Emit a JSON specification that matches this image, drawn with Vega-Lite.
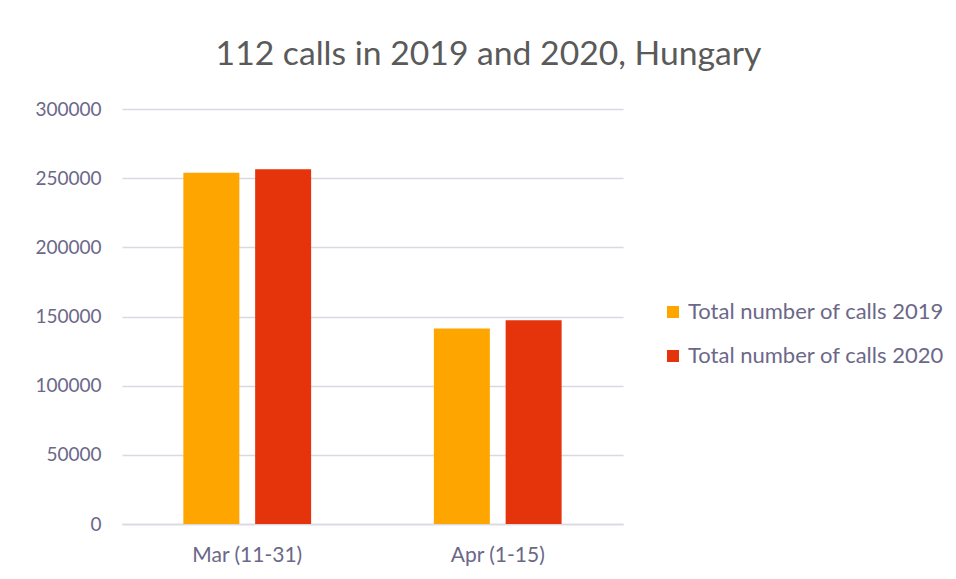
{
  "$schema": "https://vega.github.io/schema/vega-lite/v6.json",
  "width": 501,
  "height": 415,
  "autosize": {"type": "none"},
  "padding": {"left": 122, "top": 109, "right": 333, "bottom": 55},
  "background": "white",
  "title": {
    "text": "112 calls in 2019 and 2020, Hungary",
    "font": "Lato",
    "fontSize": 33.7,
    "fontWeight": "normal",
    "color": "#5A5A5A",
    "anchor": "middle",
    "dx": 116,
    "offset": 28
  },
  "data": {
    "values": [
      {"period": "Mar (11-31)", "series": "Total number of calls 2019", "calls": 254000},
      {"period": "Mar (11-31)", "series": "Total number of calls 2020", "calls": 256500},
      {"period": "Apr (1-15)", "series": "Total number of calls 2019", "calls": 141300},
      {"period": "Apr (1-15)", "series": "Total number of calls 2020", "calls": 147300}
    ]
  },
  "mark": {"type": "bar"},
  "encoding": {
    "x": {
      "field": "period",
      "type": "nominal",
      "sort": ["Mar (11-31)", "Apr (1-15)"],
      "scale": {"paddingInner": 0.49, "paddingOuter": 0.245},
      "axis": {
        "title": null,
        "labelAngle": 0,
        "ticks": false,
        "domainColor": "#D9D9E1",
        "domainWidth": 1.5,
        "labelFont": "Lato",
        "labelFontSize": 21,
        "labelColor": "#6B6888",
        "labelPadding": 20
      }
    },
    "xOffset": {
      "field": "series",
      "type": "nominal",
      "scale": {"paddingInner": 0.22, "paddingOuter": 0}
    },
    "y": {
      "field": "calls",
      "type": "quantitative",
      "scale": {"domain": [0, 300000]},
      "axis": {
        "title": null,
        "values": [0, 50000, 100000, 150000, 200000, 250000, 300000],
        "format": "d",
        "ticks": false,
        "domain": false,
        "gridColor": "#D9D9E1",
        "gridWidth": 1.5,
        "labelFont": "Lato",
        "labelFontSize": 19,
        "labelColor": "#6B6888",
        "labelPadding": 21
      }
    },
    "color": {
      "field": "series",
      "type": "nominal",
      "scale": {
        "domain": ["Total number of calls 2019", "Total number of calls 2020"],
        "range": ["#FFA500", "#E5330B"]
      },
      "legend": {
        "title": null,
        "orient": "none",
        "legendX": 540,
        "legendY": 192,
        "padding": 0,
        "symbolType": "square",
        "symbolSize": 144,
        "symbolStrokeWidth": 0,
        "labelFont": "Lato",
        "labelFontSize": 22,
        "labelLimit": 400,
        "labelColor": "#6B6888",
        "labelOffset": 4,
        "rowPadding": 22
      }
    }
  },
  "config": {"view": {"stroke": null}}
}
